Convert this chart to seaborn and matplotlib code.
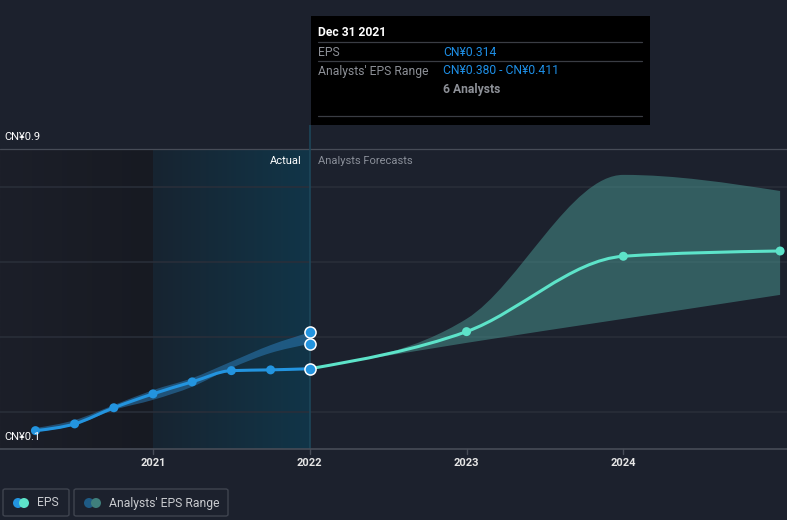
import numpy as np
import pandas as pd
import matplotlib
matplotlib.use("Agg")
import matplotlib.pyplot as plt
import seaborn as sns
from matplotlib.path import Path
from matplotlib.patches import PathPatch, Rectangle, FancyBboxPatch, Ellipse
from matplotlib.colors import LinearSegmentedColormap

# ── Data ────────────────────────────────────────────────────────────────────
past_dates = [2020.25, 2020.5, 2020.75, 2021.0, 2021.25, 2021.5, 2021.75, 2022.0]
past_eps = [0.149, 0.167, 0.210, 0.247, 0.279, 0.309, 0.311, 0.314]
past_range_hi = [0.156, 0.177, 0.217, 0.257, 0.289, 0.333, 0.377, 0.411]
past_range_lo = [0.145, 0.164, 0.204, 0.231, 0.266, 0.316, 0.356, 0.380]

fc_dates = [2022.0, 2023.0, 2024.0, 2025.0]
fc_eps = [0.314, 0.413, 0.614, 0.628]
fc_range_hi = [0.314, 0.447, 0.831, 0.788]
fc_range_lo = [0.314, 0.383, 0.447, 0.511]

year_ticks = [2021, 2022, 2023, 2024]
year_labels = ["2021", "2022", "2023", "2024"]
grid_levels = [0.2, 0.4, 0.6, 0.8]

# ── Colours ─────────────────────────────────────────────────────────────────
BG = "#1c212d"
BLUE = "#2394df"
TEAL = "#5de3c9"
GRID = "#2a2f3a"
AXLINE = "#474c57"

sns.set_theme(style="dark")
plt.rcParams["font.family"] = ["Roboto", "DejaVu Sans"]

W, H = 787, 520
fig = plt.figure(figsize=(W / 100, H / 100), dpi=100, facecolor=BG)


def fx(px):
    return px / W


def fy(py):
    return 1 - py / H


ax = fig.add_axes([0, fy(449), 1, (449 - 125) / H])
ax.set_facecolor(BG)
x0, x1 = 2020.024, 2025.044
ax.set_xlim(x0, x1)
ax.set_ylim(0.1, 0.964)
for s in ax.spines.values():
    s.set_visible(False)
ax.set_yticks([])
ax.set_xticks([])


def monotone_path(xs, ys):
    # cubic bezier segments, monotone-x tangents (same as d3 curveMonotoneX)
    xs = np.asarray(xs, float)
    ys = np.asarray(ys, float)
    n = len(xs)
    h = np.diff(xs)
    s = np.diff(ys) / h
    m = np.zeros(n)
    for i in range(1, n - 1):
        p = (s[i - 1] * h[i] + s[i] * h[i - 1]) / (h[i - 1] + h[i])
        m[i] = (np.sign(s[i - 1]) + np.sign(s[i])) * min(abs(s[i - 1]), abs(s[i]), 0.5 * abs(p))
    m[0] = (3 * s[0] - m[1]) / 2 if n > 2 else s[0]
    m[-1] = (3 * s[-1] - m[-2]) / 2 if n > 2 else s[-1]
    verts = [(xs[0], ys[0])]
    codes = [Path.MOVETO]
    for i in range(n - 1):
        d = h[i] / 3
        verts += [(xs[i] + d, ys[i] + d * m[i]), (xs[i + 1] - d, ys[i + 1] - d * m[i + 1]),
                  (xs[i + 1], ys[i + 1])]
        codes += [Path.CURVE4] * 3
    return verts, codes


def band_patch(xs, lo, hi, **kw):
    vu, cu = monotone_path(xs, hi)
    vl, cl = monotone_path(xs[::-1], lo[::-1])
    verts = vu + [vl[0]] + vl[1:] + [vu[0]]
    codes = cu + [Path.LINETO] + cl[1:] + [Path.CLOSEPOLY]
    return PathPatch(Path(verts, codes), **kw)


def line_patch(xs, ys, **kw):
    v, c = monotone_path(xs, ys)
    return PathPatch(Path(v, c), fill=False, **kw)


# ── Background shading: past region and "Actual" year ───────────────────────
dark_cmap = LinearSegmentedColormap.from_list("dk", ["#1c1f29", "#171a22"])
ax.imshow(np.linspace(0, 1, 64).reshape(1, -1), cmap=dark_cmap, aspect="auto",
          extent=[x0, 2021, 0.1, 0.9], zorder=0)
act_cmap = LinearSegmentedColormap.from_list("act", ["#172431", "#113548"])
ax.imshow(np.linspace(0, 1, 64).reshape(1, -1), cmap=act_cmap, aspect="auto",
          extent=[2021, 2022, 0.1, 0.9], zorder=0)

# gridlines
for g in grid_levels:
    ax.axhline(g, color=GRID, lw=1.1, zorder=1)
ax.axhline(0.9, color=AXLINE, lw=0.9, zorder=1)
ax.axhline(0.1, color=AXLINE, lw=1.2, zorder=5, clip_on=False)
ax.axvline(2022, color="#1d4659", lw=1.2, zorder=1)

# ── Bands ───────────────────────────────────────────────────────────────────
ax.add_patch(band_patch(past_dates, past_range_lo, past_range_hi,
                        facecolor="#2a7ab5", edgecolor="none", alpha=0.55, zorder=2))
ax.add_patch(band_patch(fc_dates, fc_range_lo, fc_range_hi,
                        facecolor="#4a9a94", edgecolor="none", alpha=0.5, zorder=2))

# ── EPS lines ───────────────────────────────────────────────────────────────
ax.add_patch(line_patch(past_dates, past_eps, edgecolor=BLUE, lw=2.2, zorder=3,
                        capstyle="round", joinstyle="round"))
ax.add_patch(line_patch(fc_dates, fc_eps, edgecolor=TEAL, lw=2.2, zorder=3,
                        capstyle="round", joinstyle="round"))

past_df = pd.DataFrame({"date": past_dates[:-1], "eps": past_eps[:-1]})
fc_df = pd.DataFrame({"date": fc_dates[1:], "eps": fc_eps[1:]})
end_df = pd.DataFrame({"date": [past_dates[-1]] * 3,
                       "eps": [past_eps[-1], past_range_lo[-1], past_range_hi[-1]]})
sns.scatterplot(data=past_df, x="date", y="eps", ax=ax, s=42, color=BLUE,
                edgecolor="none", zorder=4, legend=False)
sns.scatterplot(data=fc_df, x="date", y="eps", ax=ax, s=42, color=TEAL,
                edgecolor="none", zorder=4, legend=False, clip_on=False)
sns.scatterplot(data=end_df, x="date", y="eps", ax=ax, s=64, color=BLUE,
                edgecolor="white", linewidth=1.1, zorder=6, legend=False)
ax.set_xlabel("")
ax.set_ylabel("")

# ── Axis labels ─────────────────────────────────────────────────────────────
ax.text(fx(4), 0.9 + 7 / 375, "CN¥0.9", transform=ax.get_yaxis_transform(), color="white",
        fontsize=8, va="bottom", ha="left")
ax.text(fx(4), 0.1 + 7 / 375, "CN¥0.1", transform=ax.get_yaxis_transform(), color="white",
        fontsize=8, va="bottom", ha="left", zorder=7)
ax.text(2022 - 8 / 156.7, 0.868, "Actual", color="white", fontsize=8, ha="right", va="center")
ax.text(2022 + 8 / 156.7, 0.868, "Analysts Forecasts", color="#8a8f99", fontsize=8,
        ha="left", va="center")

for yr, lab in zip(year_ticks, year_labels):
    ax.plot([yr, yr], [0.1, 0.1 - 5 / 375], color=AXLINE, lw=1, clip_on=False)
    ax.text(yr, 0.1 - 14 / 375, lab, color="#e6e6e6", fontsize=8, ha="center", va="center",
            fontweight="bold")

# ── Tooltip ─────────────────────────────────────────────────────────────────
fig.patches.append(Rectangle((fx(311), fy(125)), fx(339), 109 / H, transform=fig.transFigure,
                             facecolor="black", edgecolor="none", zorder=10))
for yy in [42, 61, 116]:
    fig.add_artist(plt.Line2D([fx(318), fx(642)], [fy(yy), fy(yy)], color="#3a3d44", lw=0.9,
                              zorder=11))
fig.text(fx(318), fy(33), "Dec 31 2021", color="white", fontsize=8.7, fontweight="bold",
         va="center", zorder=12)
fig.text(fx(318), fy(52), "EPS", color="#8d9097", fontsize=8.7, va="center", zorder=12)
fig.text(fx(443), fy(52), "CN¥0.314", color="#1e8fe6", fontsize=8.7, va="center", zorder=12)
fig.text(fx(318), fy(71), "Analysts' EPS Range", color="#8d9097", fontsize=8.7, va="center",
         zorder=12)
fig.text(fx(443), fy(71), "CN¥0.380 - CN¥0.411", color="#1e8fe6", fontsize=8.7, va="center",
         zorder=12)
fig.text(fx(443), fy(89), "6 Analysts", color="#8d9097", fontsize=8.7, fontweight="bold",
         va="center", zorder=12)

# ── Legend ──────────────────────────────────────────────────────────────────
for bx, bw in [(3, 66), (74, 154)]:
    fig.patches.append(FancyBboxPatch((fx(bx), fy(516)), fx(bw), 27 / H,
                                      boxstyle="round,pad=0,rounding_size=0.003",
                                      transform=fig.transFigure, facecolor="none",
                                      edgecolor="#3f444f", lw=1))
for cx, col in [(18, BLUE), (24, TEAL), (89, "#1f5b85"), (96, "#3f7f7c")]:
    fig.patches.append(Ellipse((fx(cx), fy(503)), fx(10), 10 / H, transform=fig.transFigure,
                               facecolor=col, edgecolor="none"))
fig.text(fx(37), fy(503), "EPS", color="#c9cbcf", fontsize=8.7, va="center")
fig.text(fx(109), fy(503), "Analysts' EPS Range", color="#c9cbcf", fontsize=8.7, va="center")

fig.savefig("out.png", dpi=100, facecolor=BG)
